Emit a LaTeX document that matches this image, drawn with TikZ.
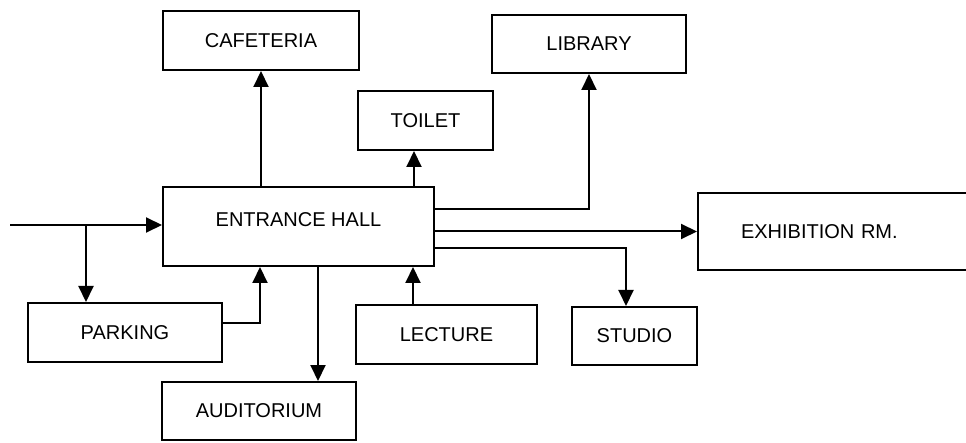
\documentclass[tikz,border=0pt]{standalone}
\usepackage{fontspec}
\setmainfont{Liberation Sans}
\usetikzlibrary{arrows.meta,positioning}

\begin{document}
\begin{tikzpicture}[x=1pt,y=-1pt,
  room/.style={draw, line width=2pt, inner sep=0pt, font=\fontsize{20}{24}\selectfont},
  flow/.style={line width=2pt, -{Triangle[length=16pt,width=15pt]}}]
\useasboundingbox (0,0) rectangle (966,443);

% Rooms
\node[room, minimum width=271, minimum height=79, text depth=13pt] (hall) at (298.5,226.5) {ENTRANCE HALL};
\node[room, minimum width=196, minimum height=59] (cafe) at (261,40.5) {CAFETERIA};
\node[room, minimum width=135, minimum height=59] (toilet) at (425.5,120.5) {TOILET};
\node[room, minimum width=194, minimum height=58] (lib) at (589,44) {LIBRARY};
\node[room, anchor=west, minimum height=77, text width=260pt, align=left, inner xsep=43pt] (exhib) at (697,231.5) {EXHIBITION RM.};
\node[room, minimum width=125, minimum height=58] (studio) at (634.5,336) {STUDIO};
\node[room, minimum width=181, minimum height=59] (lect) at (446.5,334.5) {LECTURE};
\node[room, minimum width=194, minimum height=59] (park) at (125,332.5) {PARKING};
\node[room, minimum width=194, minimum height=58] (aud) at (259,411) {AUDITORIUM};

% Way in
\coordinate (entry) at (10,225);
\coordinate (split) at (86,225);
\draw[flow] (entry) -- (entry -| hall.west);
\draw[flow] (split) -- (split |- park.north);

% Below the hall
\draw[flow] ([yshift=9.5pt]park.east) -| ([xshift=-38.5pt]hall.south);
\draw[flow] ([xshift=19.5pt]hall.south) -- ([xshift=59pt]aud.north);
\draw[flow] ([xshift=-33.5pt]lect.north) -- ([xshift=114.5pt]hall.south);

% Above the hall
\draw[flow] (cafe.south |- hall.north) -- (cafe.south);
\draw[flow] ([xshift=115.5pt]hall.north) -- ([xshift=-11.5pt]toilet.south);

% Right of the hall
\draw[flow] ([yshift=17.5pt]hall.east) -| (lib.south);
\draw[flow] (hall.east |- exhib.west) -- (exhib.west);
\draw[flow] ([yshift=-21.5pt]hall.east) -| ([xshift=-8.5pt]studio.north);

\end{tikzpicture}
\end{document}
